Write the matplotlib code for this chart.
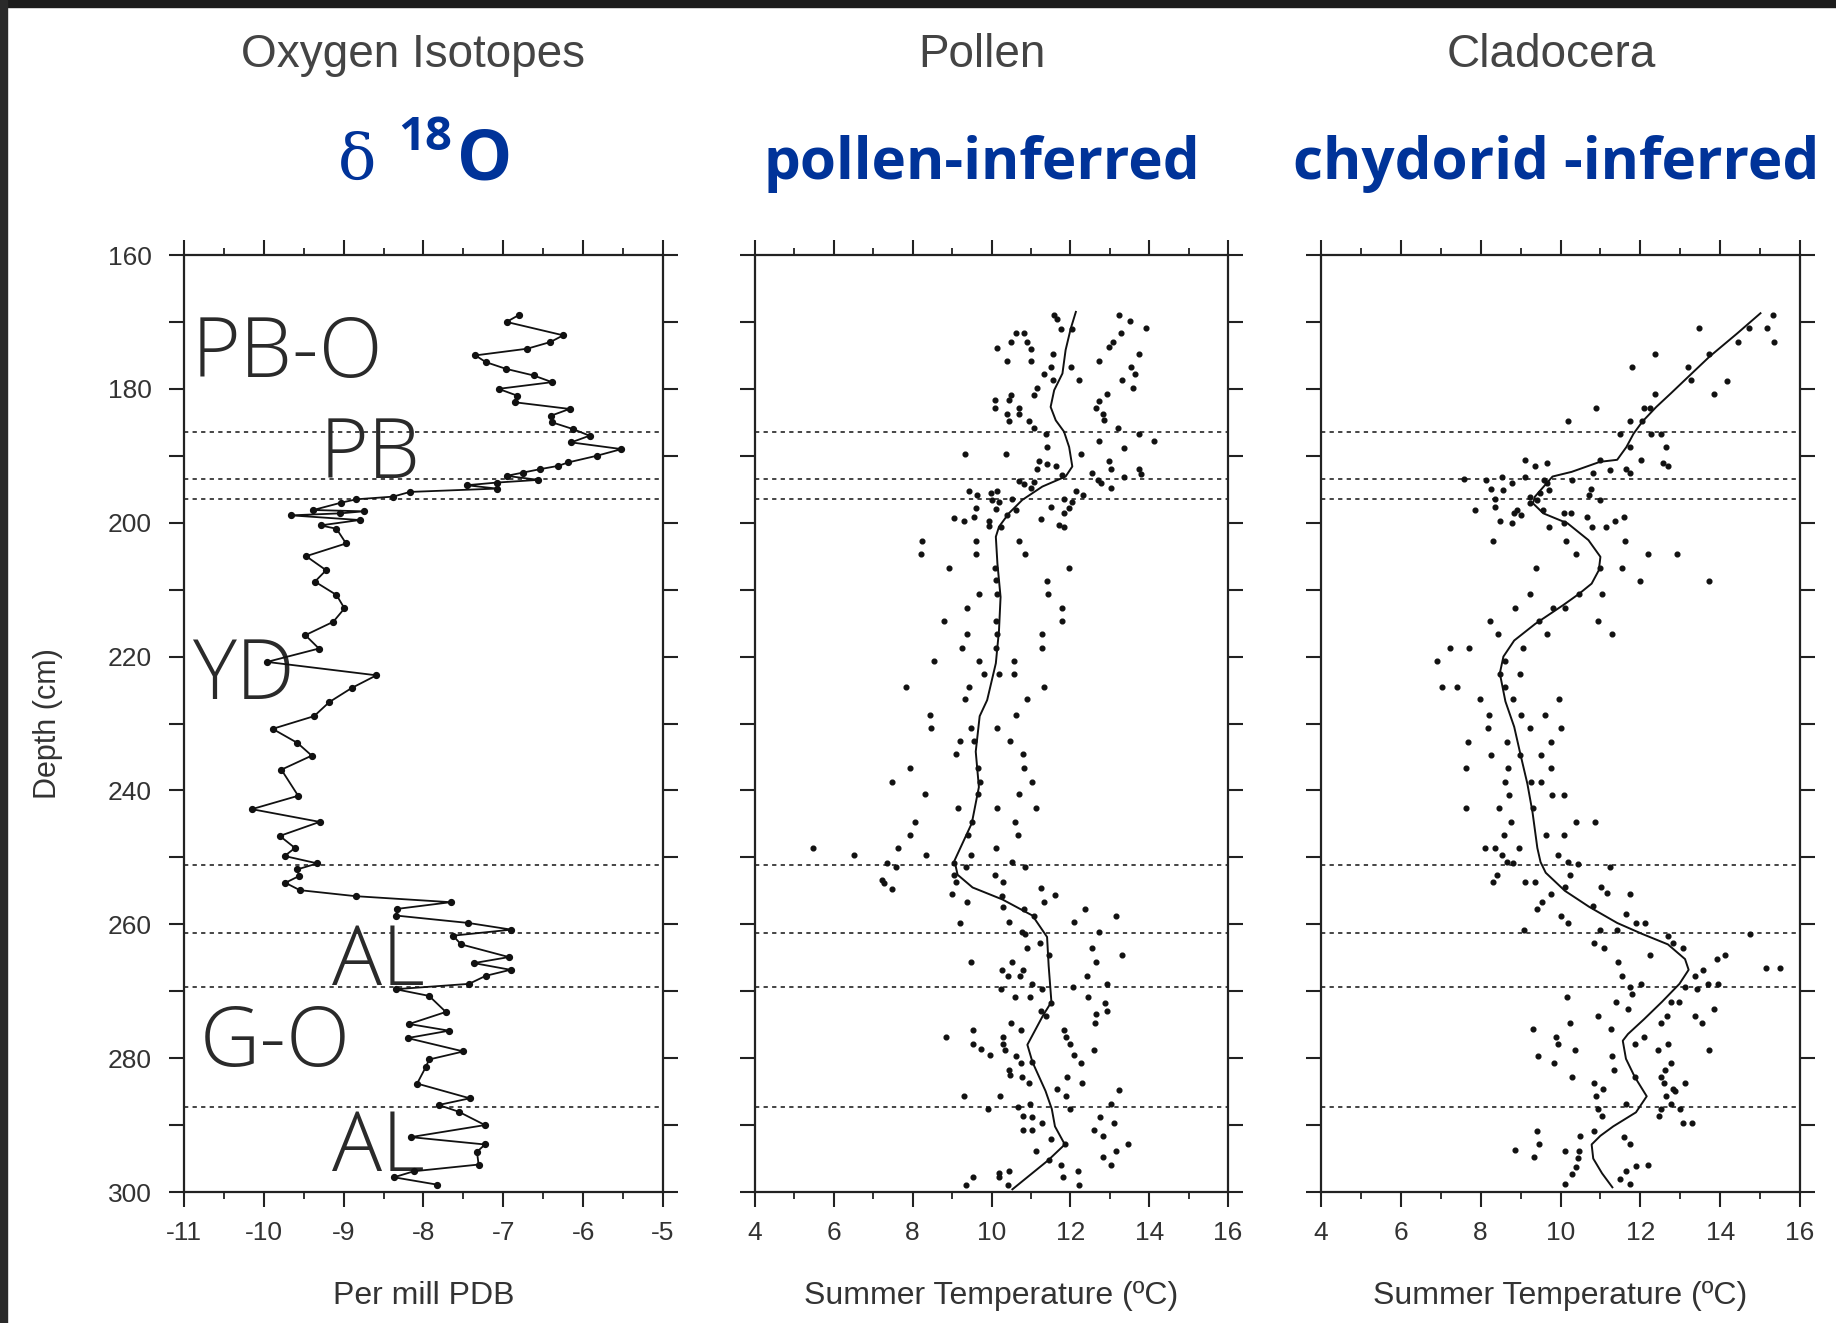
import matplotlib
matplotlib.use("Agg")
import matplotlib.pyplot as plt
from matplotlib.patches import Rectangle
from matplotlib.ticker import MultipleLocator, FuncFormatter

# ---------------- data ----------------
# Panel 1: oxygen isotopes (per mill PDB) vs depth (cm)
o18_depth = [169.0, 170.0, 172.0, 173.0, 174.0, 175.0, 176.0, 177.0, 178.0, 179.0,
             180.0, 181.0, 182.0, 183.0, 184.0, 185.0, 186.0, 187.0, 188.0, 189.0,
             190.0, 191.0, 191.5, 192.0, 192.5, 193.0, 193.6, 194.0, 194.4, 194.9,
             195.4, 196.1, 196.5, 197.0, 198.1, 198.3, 198.6, 198.9, 199.6, 200.4,
             200.9, 203.1, 205.0, 207.1, 208.8, 210.8, 212.8, 214.8, 216.8, 218.8,
             220.8, 222.8, 224.7, 226.8, 228.9, 230.8, 232.9, 234.8, 236.9, 240.8,
             242.8, 244.7, 246.8, 248.6, 249.8, 250.9, 251.8, 252.8, 253.8, 254.9,
             255.8, 256.7, 257.7, 258.7, 259.8, 260.8, 261.7, 263.0, 264.9, 265.8,
             266.8, 267.7, 268.9, 269.7, 270.7, 273.1, 274.9, 275.9, 277.0, 279.0,
             280.2, 281.3, 283.8, 286.0, 287.0, 288.0, 290.0, 291.8, 292.9, 294.0,
             295.9, 296.9, 297.8, 298.9]
o18_value = [-6.81, -6.96, -6.25, -6.41, -6.70, -7.35, -7.22, -6.97, -6.62, -6.39,
             -7.06, -6.83, -6.86, -6.17, -6.40, -6.39, -6.13, -5.92, -6.15, -5.52,
             -5.83, -6.19, -6.31, -6.54, -6.75, -6.96, -6.56, -7.08, -7.46, -7.08,
             -8.17, -8.38, -8.84, -9.03, -9.38, -8.75, -9.04, -9.66, -8.80, -9.29,
             -9.09, -8.97, -9.47, -9.22, -9.36, -9.09, -8.99, -9.13, -9.48, -9.31,
             -9.96, -8.59, -8.90, -9.18, -9.37, -9.89, -9.58, -9.40, -9.78, -9.57,
             -10.15, -9.30, -9.80, -9.61, -9.74, -9.33, -9.58, -9.56, -9.73, -9.55,
             -8.85, -7.66, -8.33, -8.34, -7.44, -6.90, -7.63, -7.53, -6.93, -7.37,
             -6.91, -7.22, -7.43, -8.35, -7.93, -7.72, -8.18, -7.68, -8.20, -7.50,
             -7.93, -7.97, -8.08, -7.42, -7.81, -7.56, -7.23, -8.16, -7.23, -7.33,
             -7.31, -8.12, -8.37, -7.83]

# Panel 2: pollen-inferred summer temperature (deg C)
pollen_depth = [168.9, 169.6, 171.0, 171.0, 168.9, 169.9, 170.9, 171.7, 173.7, 173.0,
                171.7, 171.7, 173.0, 173.0, 174.0, 173.9, 175.8, 175.8, 174.8, 175.8,
                174.8, 176.8, 177.8, 179.8, 178.7, 176.8, 177.8, 178.7, 176.8, 178.7,
                179.8, 180.9, 180.9, 181.7, 181.7, 182.8, 182.8, 183.7, 183.8, 184.8,
                180.8, 181.8, 182.8, 183.8, 184.6, 184.8, 185.8, 186.8, 185.8, 186.8,
                187.8, 187.8, 188.8, 188.7, 189.7, 189.8, 189.7, 190.8, 191.2, 191.6,
                191.9, 190.8, 191.9, 191.9, 192.7, 192.8, 192.6, 193.6, 194.1, 193.2,
                194.8, 193.8, 194.2, 194.8, 193.9, 195.2, 195.9, 195.6, 195.2, 196.6,
                196.9, 196.4, 195.2, 195.8, 196.4, 196.9, 197.8, 197.7, 198.6, 197.8,
                197.9, 198.1, 199.3, 199.7, 199.2, 199.7, 198.9, 199.4, 200.4, 200.7,
                200.5, 200.7, 202.7, 204.7, 202.7, 204.7, 202.7, 204.7, 206.7, 206.7,
                206.7, 208.6, 208.7, 210.7, 210.7, 210.7, 212.7, 212.7, 214.7, 214.7,
                214.7, 216.7, 216.7, 216.7, 218.7, 218.7, 218.7, 220.6, 220.6, 220.6,
                222.6, 222.6, 222.6, 224.6, 224.6, 224.6, 226.4, 226.4,
                228.7, 230.6, 230.6, 230.6, 228.7, 232.6, 232.6, 232.6, 234.6, 234.6,
                236.6, 236.6, 236.6, 238.7, 238.7, 238.7, 240.6, 240.6, 240.6, 242.6,
                242.6, 242.6, 244.7, 244.7, 244.7, 246.6, 246.6, 246.6, 248.6, 249.7,
                248.6, 249.6, 249.7, 248.6, 250.7, 250.8, 251.5, 250.8, 251.5, 251.5,
                253.4, 253.9, 254.7, 252.6, 253.7, 252.6, 253.7, 255.5, 256.6, 255.8,
                257.4, 254.6, 255.6, 256.6, 257.7, 258.8, 257.7, 258.8, 259.8, 259.7,
                259.7, 261.2, 261.5, 261.2, 262.8, 263.6, 264.6, 264.6, 263.6, 265.7,
                265.7, 266.8, 266.8, 265.7, 267.8, 267.7, 267.8, 268.9, 269.7, 269.7,
                269.4, 270.8, 268.9, 270.8, 270.8, 271.8, 271.8, 272.9, 272.9, 273.7,
                273.4, 274.8, 274.8, 275.8, 276.8, 275.8, 277.9, 278.6, 279.6, 276.8,
                277.9, 278.8, 279.7, 275.8, 276.8, 277.9, 279.6, 278.8, 280.8, 280.6,
                281.7, 282.5, 282.8, 283.7, 282.8, 280.7, 283.7, 285.7, 285.7, 284.6,
                285.7, 284.7, 287.6, 287.3, 286.8, 287.6, 286.8, 288.6, 288.8, 288.8,
                290.7, 290.7, 289.7, 290.7, 289.7, 292.1, 292.9, 291.7, 292.8, 293.9,
                295.2, 293.9, 294.8, 295.9, 297.1, 296.9, 297.8, 297.7, 296.9, 297.8,
                298.9, 298.9, 298.9, 295.9]
pollen_temp = [11.59, 11.67, 11.76, 12.05, 13.24, 13.51, 13.93, 13.28, 12.99, 13.07,
               10.83, 10.61, 10.49, 10.91, 11.00, 10.15, 10.40, 11.00, 11.55, 12.73,
               13.73, 13.54, 13.65, 13.60, 13.31, 11.50, 11.33, 11.55, 12.01, 12.21,
               11.16, 11.08, 10.49, 10.44, 10.09, 10.09, 10.70, 10.70, 10.40, 10.44,
               12.94, 12.73, 12.65, 12.82, 12.86, 10.95, 11.08, 11.38, 13.20, 13.73,
               14.13, 12.73, 13.37, 11.42, 12.27, 9.33, 10.38, 11.21, 11.42, 11.63,
               11.16, 12.99, 13.03, 13.75, 13.79, 11.80, 12.56, 12.69, 12.77, 13.37,
               13.03, 10.70, 10.83, 11.00, 11.08, 9.43, 9.64, 9.98, 10.15, 10.02,
               10.19, 10.53, 12.14, 12.31, 11.84, 12.05, 11.97, 11.50, 11.84, 9.60,
               10.11, 10.61, 9.05, 9.30, 9.55, 9.94, 10.40, 11.25, 11.71, 11.84,
               9.94, 10.23, 8.24, 8.20, 9.60, 9.60, 10.70, 10.85, 8.92, 10.09,
               11.97, 10.11, 11.42, 11.44, 9.68, 10.15, 9.39, 11.78, 11.80, 8.79,
               10.11, 9.39, 10.15, 11.29, 11.29, 9.26, 10.11, 8.54, 9.68, 10.57,
               9.81, 10.19, 10.57, 7.82, 9.43, 11.33, 9.34, 10.91,
               8.43, 8.47, 9.48, 10.14, 10.63, 9.21, 9.56, 10.48, 9.09, 10.79,
               7.94, 9.67, 10.83, 7.47, 9.72, 11.04, 8.32, 9.66, 10.69, 9.16,
               10.14, 11.14, 8.05, 9.50, 10.60, 7.94, 9.41, 10.68, 5.46, 6.52,
               7.62, 8.34, 9.49, 10.11, 10.53, 7.36, 7.57, 9.06, 9.36, 10.84,
               7.23, 7.27, 7.48, 9.06, 9.10, 10.10, 10.29, 9.01, 9.39, 10.26,
               10.28, 11.26, 11.60, 11.34, 10.83, 11.08, 12.38, 13.16, 9.19, 10.44,
               12.10, 10.78, 10.86, 12.73, 11.24, 10.90, 11.45, 13.32, 12.56, 9.48,
               10.51, 10.26, 10.81, 12.64, 12.42, 10.43, 10.72, 11.02, 10.25, 11.27,
               12.08, 12.46, 12.93, 10.59, 10.97, 11.52, 12.88, 12.92, 11.26, 11.39,
               12.66, 12.62, 10.50, 10.75, 8.84, 9.52, 9.54, 9.73, 9.96, 10.28,
               10.28, 10.34, 10.61, 11.85, 11.89, 11.98, 12.10, 12.61, 10.74, 11.04,
               10.44, 10.48, 10.78, 10.95, 11.92, 12.27, 12.30, 9.29, 10.22, 11.66,
               11.90, 13.23, 9.92, 10.68, 10.98, 12.00, 13.02, 10.81, 11.02, 12.76,
               10.80, 11.02, 11.27, 12.59, 13.10, 11.52, 11.86, 12.84, 13.47, 11.14,
               11.47, 13.17, 12.83, 13.04, 10.20, 10.45, 10.20, 11.81, 12.19, 9.52,
               9.35, 10.41, 12.23, 11.77]
pollen_smooth_depth = [168.5, 171.0, 174.2, 177.7, 180.2, 182.7, 184.7, 186.4, 188.7, 191.6,
                       193.1, 194.6, 196.6, 198.6, 200.6, 202.1, 206.1, 211.1, 216.1, 221.0,
                       226.5, 228.9, 234.2, 239.5, 244.9, 250.5, 252.6, 254.5, 256.3, 258.7,
                       261.9, 266.2, 271.6, 273.7, 278.0, 280.6, 284.9, 287.6, 290.2, 292.9,
                       295.3, 299.6]
pollen_smooth_temp = [12.14, 12.01, 11.88, 11.80, 11.59, 11.50, 11.63, 11.84, 11.97, 12.05,
                      11.88, 11.29, 10.78, 10.44, 10.19, 10.11, 10.15, 10.23, 10.19, 10.11,
                      9.89, 9.70, 9.60, 9.68, 9.50, 9.06, 9.14, 9.52, 10.28, 11.04,
                      11.41, 11.45, 11.52, 11.30, 10.91, 11.04, 11.37, 11.53, 11.61, 11.86,
                      11.43, 10.53]

# Panel 3: chydorid-inferred summer temperature (deg C)
clad_depth = [168.9, 170.9, 173.0, 170.9, 173.0, 170.9, 174.8, 174.8, 176.8, 176.8,
              178.7, 178.8, 180.8, 180.8, 182.8, 182.8, 182.8, 184.8, 184.8, 184.8,
              186.7, 186.7, 186.8, 188.7, 188.7, 190.6, 190.6, 191.1, 191.6, 191.9,
              192.6, 192.1, 190.6, 191.1, 191.6, 192.6, 193.4, 193.6, 193.1, 194.1,
              193.1, 193.6, 194.1, 193.6, 194.9, 195.1, 195.1, 195.6, 196.4, 196.1,
              196.6, 194.9, 195.9, 196.6, 198.1, 197.7, 198.1, 198.6, 198.9, 197.0,
              198.1, 198.6, 198.6, 200.1, 199.7, 200.7, 200.1, 199.2, 200.7, 200.7,
              199.7, 199.2, 202.7, 202.7, 202.7, 204.7, 204.7, 204.7, 206.7, 206.7,
              206.7, 208.7, 208.7, 210.7, 210.7, 210.7, 212.7, 212.7, 212.7, 214.7,
              214.7, 214.7, 216.7, 216.7, 216.7, 218.7, 218.7, 218.7, 220.6, 220.6,
              222.6, 222.6, 224.6, 224.6, 224.6, 226.4, 226.4, 226.4,
              228.7, 228.7, 228.7, 230.6, 230.6, 230.6, 232.7, 232.7, 232.7, 234.7,
              234.7, 234.7, 236.6, 236.6, 236.6, 238.7, 238.7, 238.7, 240.7, 240.7,
              240.7, 242.6, 242.6, 242.6, 244.7, 244.7, 244.7, 246.6, 246.6, 246.6,
              248.6, 248.6, 248.6, 249.7, 249.7, 250.7, 250.9, 250.7, 251.0, 251.5,
              252.6, 253.7, 253.7, 253.7, 252.6, 254.5, 254.5, 255.4, 255.5, 255.5,
              256.6, 257.7, 257.2, 258.5, 259.8, 259.8, 258.8, 259.8, 260.9, 260.9,
              260.9, 262.8, 263.6, 261.7, 262.8, 263.6, 264.6, 265.2, 264.6, 261.5,
              266.6, 266.6, 265.7, 267.7, 267.7, 266.8, 269.3, 268.9, 269.4, 269.7,
              268.9, 268.9, 270.8, 270.4, 271.6, 271.6, 271.6, 272.6, 273.7, 273.7,
              273.7, 274.8, 272.6, 274.8, 274.8, 275.7, 275.7, 276.8, 276.8, 277.9,
              277.9, 278.8, 279.7, 278.8, 277.9, 278.8, 279.7, 280.7, 281.7, 281.7,
              280.7, 282.8, 282.8, 282.8, 283.7, 283.7, 284.6, 283.7, 284.6, 285.7,
              285.7, 284.9, 286.8, 286.8, 287.6, 287.6, 288.6, 288.6, 287.6, 289.7,
              289.7, 290.9, 290.9, 292.8, 291.7, 291.8, 292.8, 293.7, 294.8, 293.9,
              293.9, 294.9, 296.2, 296.1, 295.9, 296.9, 297.3, 298.0, 298.8, 298.8]
clad_temp = [15.33, 15.18, 15.35, 14.72, 14.45, 13.46, 13.73, 12.37, 11.80, 13.20,
             13.27, 14.16, 13.85, 12.36, 10.90, 12.10, 12.23, 10.19, 11.74, 12.05,
             11.48, 12.26, 12.53, 12.65, 11.73, 12.02, 10.99, 12.56, 12.69, 11.64,
             11.73, 11.25, 9.11, 9.67, 9.37, 10.81, 7.57, 8.14, 8.53, 8.79,
             9.10, 9.58, 9.67, 10.28, 8.27, 8.57, 9.71, 9.49, 8.35, 9.23,
             9.40, 10.76, 10.72, 10.98, 7.87, 8.35, 8.92, 8.83, 9.00, 9.23,
             9.57, 10.10, 10.27, 8.78, 8.48, 9.70, 10.09, 10.67, 10.79, 11.14,
             11.36, 11.60, 8.30, 10.13, 11.62, 10.39, 12.19, 12.93, 9.38, 11.00,
             11.53, 12.00, 13.71, 9.24, 10.47, 11.05, 8.85, 9.81, 10.11, 8.23,
             9.45, 10.94, 8.44, 9.67, 11.29, 7.22, 7.70, 9.05, 6.91, 8.61,
             8.48, 8.98, 7.03, 7.41, 8.60, 7.99, 8.82, 9.96,
             8.21, 9.02, 9.61, 8.18, 9.23, 10.00, 7.69, 8.66, 9.75, 8.26,
             8.99, 9.51, 7.64, 8.69, 9.75, 8.60, 9.26, 9.51, 8.71, 9.78,
             10.09, 7.63, 8.46, 9.30, 8.76, 10.39, 10.86, 8.59, 9.64, 10.10,
             8.10, 8.36, 8.96, 8.54, 9.94, 8.67, 8.80, 10.20, 10.45, 11.24,
             8.40, 8.31, 9.10, 9.36, 10.24, 10.11, 11.01, 11.16, 11.73, 9.76,
             9.53, 9.40, 10.81, 11.64, 11.90, 12.12, 10.01, 10.19, 9.09, 10.98,
             11.42, 10.84, 11.10, 12.69, 12.82, 13.08, 12.24, 13.91, 14.13, 14.75,
             15.14, 15.49, 11.45, 11.53, 13.38, 13.56, 11.75, 12.02, 13.11, 13.42,
             13.69, 13.95, 10.17, 11.79, 12.76, 12.98, 11.39, 11.70, 10.95, 12.67,
             13.37, 13.54, 13.85, 10.25, 12.53, 9.32, 11.26, 12.09, 9.89, 9.93,
             11.87, 10.37, 11.29, 12.44, 12.70, 13.71, 9.43, 9.84, 11.33, 12.61,
             12.78, 10.28, 11.86, 12.52, 12.60, 10.84, 11.06, 13.13, 12.82, 10.88,
             12.64, 12.86, 11.63, 12.77, 12.99, 10.93, 11.05, 12.46, 12.51, 13.07,
             13.29, 9.42, 10.83, 9.46, 10.48, 11.58, 11.75, 8.85, 9.33, 10.12,
             10.47, 10.43, 10.38, 11.88, 12.18, 11.65, 10.29, 11.48, 11.74, 10.11]
clad_smooth_depth = [168.7, 171.7, 175.2, 178.2, 180.7, 182.7, 184.9, 186.7, 188.7, 190.6,
                     190.9, 192.4, 193.1, 194.6, 196.1, 197.1, 198.6, 200.1, 202.6, 205.1,
                     207.1, 209.1, 210.6, 212.3, 215.1, 217.6, 220.0, 222.5, 226.7, 230.5,
                     234.7, 239.0, 243.3, 248.6, 250.7, 252.3, 255.0, 257.4, 259.8, 261.4,
                     263.0, 265.2, 266.8, 268.9, 271.6, 274.2, 276.4, 277.4, 280.1, 282.8,
                     285.7, 288.1, 290.2, 291.6, 292.9, 295.0, 297.2, 299.3]
clad_smooth_temp = [15.01, 14.43, 13.73, 13.20, 12.76, 12.40, 12.05, 11.83, 11.65, 11.42,
                    10.99, 10.28, 9.80, 9.58, 9.36, 9.31, 9.57, 10.18, 10.70, 11.00,
                    10.96, 10.78, 10.47, 10.07, 9.37, 8.84, 8.57, 8.48, 8.62, 8.84,
                    9.00, 9.17, 9.30, 9.42, 9.50, 9.63, 10.11, 10.72, 11.42, 12.03,
                    12.69, 13.12, 13.21, 12.98, 12.54, 12.09, 11.69, 11.56, 11.64, 11.86,
                    12.16, 11.89, 11.32, 11.00, 10.78, 10.82, 11.04, 11.30]

# zone boundaries (dotted lines), depth in cm
zone_bounds = [186.4, 193.4, 196.5, 251.1, 261.3, 269.3, 287.3]
zone_labels = ["PB-O", "PB", "YD", "AL", "G-O", "AL"]
zone_label_x = [-10.9, -9.3, -10.9, -9.15, -10.8, -9.15]
zone_label_y = [178.2, 193.3, 226.4, 269.0, 281.2, 296.9]

panel_titles = ["Oxygen Isotopes", "Pollen", "Cladocera"]
panel_xlabels = ["Per mill PDB", "Summer Temperature (\u00baC)", "Summer Temperature (\u00baC)"]
panel_xlims = [(-11, -5), (4, 16), (4, 16)]
panel_xmajor = [1, 2, 2]
panel_xminor = [0.5, 1, 1]
depth_ticks = list(range(160, 301, 10))

# ---------------- figure ----------------
W, H = 1836, 1323
fig = plt.figure(figsize=(W / 100, H / 100), dpi=100)
fig.patch.set_facecolor("white")

# scanned-slide dark borders
fig.add_artist(Rectangle((0, 1 - 7 / H), 1, 7 / H, transform=fig.transFigure,
                         color="#1c1c1c", zorder=10))
fig.add_artist(Rectangle((0, 0), 7 / W, 1, transform=fig.transFigure,
                         color="#2a2a2a", zorder=10))

ax_px = [(184, 663), (755, 1228), (1321, 1800)]
y_top, y_bot = 255, 1192
axes = []
INK = "#222222"
TXT = "#333333"
for i, (l, r) in enumerate(ax_px):
    ax = fig.add_axes([l / W, 1 - y_bot / H, (r - l) / W, (y_bot - y_top) / H])
    ax.set_xlim(*panel_xlims[i])
    ax.set_ylim(300, 160)
    ax.xaxis.set_major_locator(MultipleLocator(panel_xmajor[i]))
    ax.xaxis.set_minor_locator(MultipleLocator(panel_xminor[i]))
    ax.set_yticks(depth_ticks)
    if i == 0:
        ax.yaxis.set_major_formatter(FuncFormatter(lambda v, p: f"{int(v)}" if int(v) % 20 == 0 else ""))
    else:
        ax.set_yticklabels([])
    ax.xaxis.set_major_formatter(FuncFormatter(lambda v, p: f"{v:g}"))
    ax.tick_params(axis="both", which="major", direction="out", length=11, width=1.5,
                   colors=INK, labelcolor=TXT, labelsize=19, top=True, right=True,
                   labeltop=False, labelright=False)
    ax.tick_params(axis="x", which="major", pad=10)
    ax.tick_params(axis="y", which="major", pad=12)
    ax.tick_params(axis="both", which="minor", direction="out", length=5, width=1.3,
                   colors=INK, top=True, right=True)
    ax.yaxis.set_minor_locator(MultipleLocator(10))
    ax.tick_params(axis="y", which="minor", length=0)
    for lab in ax.get_xticklabels() + ax.get_yticklabels():
        lab.set_fontfamily("Liberation Sans")
    for s in ax.spines.values():
        s.set_color(INK)
        s.set_linewidth(1.6)
    for d in zone_bounds:
        ax.axhline(d, color="#444444", lw=1.4, ls=(0, (2.2, 2.2)), zorder=1)
    ax.set_xlabel(panel_xlabels[i], fontsize=23, color=TXT, family="Liberation Sans",
                  labelpad=26)
    axes.append(ax)

axes[0].set_ylabel("Depth (cm)", fontsize=22, color=TXT, family="Liberation Sans",
                   labelpad=32)

# panel 1: isotope curve
axes[0].plot(o18_value, o18_depth, color="#111111", lw=1.3, marker="o", ms=4.2, zorder=3)
for lab, x, y in zip(zone_labels, zone_label_x, zone_label_y):
    axes[0].text(x, y, lab, fontsize=60, color="#2a2a2a", family="Open Sans", weight="light",
                 ha="left", va="baseline", zorder=2)

# panel 2: pollen
axes[1].plot(pollen_temp, pollen_depth, ls="none", marker="o", ms=3.4, color="#111111", zorder=3)
axes[1].plot(pollen_smooth_temp, pollen_smooth_depth, color="#111111", lw=1.4, zorder=4)

# panel 3: cladocera
axes[2].plot(clad_temp, clad_depth, ls="none", marker="o", ms=3.4, color="#111111", zorder=3)
axes[2].plot(clad_smooth_temp, clad_smooth_depth, color="#111111", lw=1.4, zorder=4)

# titles
title_x = [413, 982, 1551]
for t, x in zip(panel_titles, title_x):
    fig.text(x / W, 1 - 67 / H, t, fontsize=33, color="#444444", family="Liberation Sans",
             ha="center", va="baseline")

BLUE = "#003399"
fig.text(982 / W, 1 - 179 / H, "pollen-inferred", fontsize=42, color=BLUE,
         family="Open Sans", weight="bold", ha="center", va="baseline")
fig.text(1556 / W, 1 - 179 / H, "chydorid -inferred", fontsize=42, color=BLUE,
         family="Open Sans", weight="bold", ha="center", va="baseline")
fig.text(357 / W, 1 - 179 / H, "\u03b4", fontsize=46, color=BLUE, family="DejaVu Serif",
         ha="center", va="baseline")
fig.text(425 / W, 1 - 150 / H, "18", fontsize=34, color=BLUE, family="Open Sans",
         weight="bold", ha="center", va="baseline")
fig.text(485 / W, 1 - 179 / H, "O", fontsize=50, color=BLUE, family="Open Sans",
         weight="bold", ha="center", va="baseline")

fig.savefig("out.png", dpi=100, facecolor="white")
